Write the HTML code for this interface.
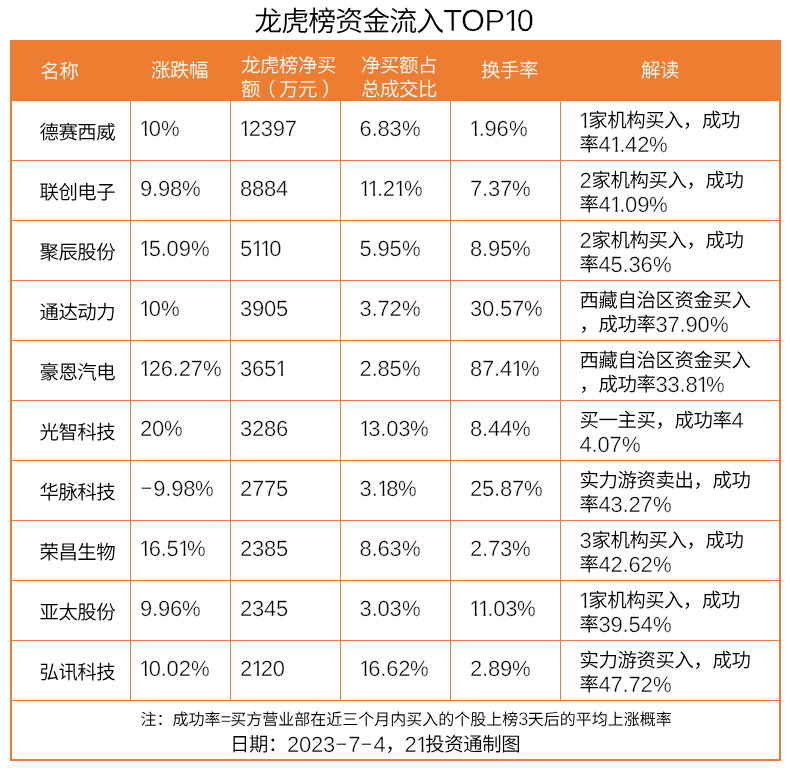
<!DOCTYPE html>
<html lang="zh-CN">
<head>
<meta charset="utf-8">
<title>龙虎榜资金流入TOP10</title>
<style>
html,body{margin:0;padding:0;background:#fff;}
body{width:790px;height:770px;position:relative;overflow:hidden;
  font-family:"Liberation Sans","Noto Sans CJK SC",sans-serif;font-weight:350;color:#000;text-rendering:geometricPrecision;}
i,b{font-style:normal;font-weight:inherit;}
table,thead,tbody,tfoot,tr,th,td{display:block;margin:0;padding:0;border:0;font-weight:inherit;text-align:left;}
.title{position:absolute;left:254.2px;top:2px;margin:0;text-align:left;font-size:27.9px;letter-spacing:-.9px;line-height:40px;font-weight:350;white-space:nowrap;}
.tbl{position:absolute;left:0;top:0;width:790px;height:770px;}
.tbl:before{content:"";position:absolute;left:10px;top:40px;width:767px;height:717px;border:2px solid #ed7d31;}
.hd{position:absolute;left:11px;top:41px;width:769px;height:60px;background:#ed7d31;color:#fff;}
.th{position:absolute;white-space:nowrap;font-size:19.4px;letter-spacing:-.4px;line-height:24px;}
.tr{position:absolute;left:0;width:790px;height:59px;}
.td{position:absolute;white-space:nowrap;font-size:19.4px;letter-spacing:-.4px;line-height:24px;top:0;}
.n{font-size:22px;line-height:0;letter-spacing:-.2px;-webkit-text-stroke:0.4px #fff;}
.n i{display:inline-block;line-height:.8em;width:.424em;margin-left:-.03em;clip-path:polygon(0 0,.347em 0,.347em 100%,.25em 100%,.25em 62%,0 62%);}
.n b{display:inline-block;width:.6em;transform:translate(-.036em,-.09em) scaleX(1.92);transform-origin:0 50%;}
.title .n{font-size:30.7px;letter-spacing:-.35px;margin-left:0;}
.note .n{font-size:18.2px;letter-spacing:-.7px;}
.c1{left:39.4px;top:20px;}
.c2{left:140px;top:17px;}
.c3{left:240px;top:17px;}
.c4{left:359.6px;top:17px;}
.c5{left:470px;top:17px;}
.c6{left:579.5px;top:8px;}
.c6 .n,.date .n{vertical-align:-1px;}
.h1{left:29.6px;top:19.3px;}
.h2{left:140px;top:18px;}
.h3{left:230px;top:13px;}
.h4{left:350px;top:13px;}
.h5{left:470px;top:18px;}
.h6{left:630px;top:18px;}
.ft{position:absolute;left:12px;top:701px;width:767px;height:58px;}
.note{position:absolute;left:128.4px;top:10px;font-size:16px;line-height:20px;white-space:nowrap;}
.date{position:absolute;left:218px;top:32px;font-size:19.4px;letter-spacing:-.4px;line-height:24px;white-space:nowrap;}
.vl{position:absolute;top:101px;width:1px;height:599px;background:#ed7d31;}
.hl{position:absolute;left:12px;height:1px;width:767px;background:#ed7d31;}
.n u{text-decoration:none;display:inline-block;transform:scaleX(.955);transform-origin:0 50%;}
.pl{position:relative;left:-.2em;}
.pr{position:relative;left:.26em;}
</style>
</head>
<body>
<h1 class="title">龙虎榜资金流入<span class="n">TOP<i>1</i>0</span></h1>
<div class="tbl">
<div class="grid">
  <div class="vl" style="left:130px"></div>
  <div class="vl" style="left:230px"></div>
  <div class="vl" style="left:340px"></div>
  <div class="vl" style="left:450px"></div>
  <div class="vl" style="left:560px"></div>
  <div class="hl" style="top:160px"></div>
  <div class="hl" style="top:220px"></div>
  <div class="hl" style="top:280px"></div>
  <div class="hl" style="top:340px"></div>
  <div class="hl" style="top:400px"></div>
  <div class="hl" style="top:460px"></div>
  <div class="hl" style="top:520px"></div>
  <div class="hl" style="top:580px"></div>
  <div class="hl" style="top:640px"></div>
  <div class="hl" style="top:700px"></div>
</div>
<table>
<thead>
<tr class="hd">
  <th class="th h1">名称</th>
  <th class="th h2">涨跌幅</th>
  <th class="th h3">龙虎榜净买<br>额<span class="pl">（</span>万元<span class="pr">）</span></th>
  <th class="th h4">净买额占<br>总成交比</th>
  <th class="th h5">换手率</th>
  <th class="th h6">解读</th>
</tr>
</thead>
<tbody>
<tr class="tr" style="top:101px">
  <td class="td c1">德赛西威</td>
  <td class="td c2"><span class="n"><i>1</i>0<u>%</u></span></td>
  <td class="td c3"><span class="n"><i>1</i>2397</span></td>
  <td class="td c4"><span class="n">6.83<u>%</u></span></td>
  <td class="td c5"><span class="n"><i>1</i>.96<u>%</u></span></td>
  <td class="td c6"><span class="n"><i>1</i></span>家机构买入，成功<br>率<span class="n">4<i>1</i>.42<u>%</u></span></td>
</tr>
<tr class="tr" style="top:161px">
  <td class="td c1">联创电子</td>
  <td class="td c2"><span class="n">9.98<u>%</u></span></td>
  <td class="td c3"><span class="n">8884</span></td>
  <td class="td c4"><span class="n"><i>1</i><i>1</i>.2<i>1</i><u>%</u></span></td>
  <td class="td c5"><span class="n">7.37<u>%</u></span></td>
  <td class="td c6"><span class="n">2</span>家机构买入，成功<br>率<span class="n">4<i>1</i>.09<u>%</u></span></td>
</tr>
<tr class="tr" style="top:221px">
  <td class="td c1">聚辰股份</td>
  <td class="td c2"><span class="n"><i>1</i>5.09<u>%</u></span></td>
  <td class="td c3"><span class="n">5<i>1</i><i>1</i>0</span></td>
  <td class="td c4"><span class="n">5.95<u>%</u></span></td>
  <td class="td c5"><span class="n">8.95<u>%</u></span></td>
  <td class="td c6"><span class="n">2</span>家机构买入，成功<br>率<span class="n">45.36<u>%</u></span></td>
</tr>
<tr class="tr" style="top:281px">
  <td class="td c1">通达动力</td>
  <td class="td c2"><span class="n"><i>1</i>0<u>%</u></span></td>
  <td class="td c3"><span class="n">3905</span></td>
  <td class="td c4"><span class="n">3.72<u>%</u></span></td>
  <td class="td c5"><span class="n">30.57<u>%</u></span></td>
  <td class="td c6">西藏自治区资金买入<br>，成功率<span class="n">37.90<u>%</u></span></td>
</tr>
<tr class="tr" style="top:341px">
  <td class="td c1">豪恩汽电</td>
  <td class="td c2"><span class="n"><i>1</i>26.27<u>%</u></span></td>
  <td class="td c3"><span class="n">365<i>1</i></span></td>
  <td class="td c4"><span class="n">2.85<u>%</u></span></td>
  <td class="td c5"><span class="n">87.4<i>1</i><u>%</u></span></td>
  <td class="td c6">西藏自治区资金买入<br>，成功率<span class="n">33.8<i>1</i><u>%</u></span></td>
</tr>
<tr class="tr" style="top:401px">
  <td class="td c1">光智科技</td>
  <td class="td c2"><span class="n">20<u>%</u></span></td>
  <td class="td c3"><span class="n">3286</span></td>
  <td class="td c4"><span class="n"><i>1</i>3.03<u>%</u></span></td>
  <td class="td c5"><span class="n">8.44<u>%</u></span></td>
  <td class="td c6">买一主买，成功率<span class="n">4</span><br><span class="n">4.07<u>%</u></span></td>
</tr>
<tr class="tr" style="top:461px">
  <td class="td c1">华脉科技</td>
  <td class="td c2"><span class="n"><b>-</b>9.98<u>%</u></span></td>
  <td class="td c3"><span class="n">2775</span></td>
  <td class="td c4"><span class="n">3.<i>1</i>8<u>%</u></span></td>
  <td class="td c5"><span class="n">25.87<u>%</u></span></td>
  <td class="td c6">实力游资卖出，成功<br>率<span class="n">43.27<u>%</u></span></td>
</tr>
<tr class="tr" style="top:521px">
  <td class="td c1">荣昌生物</td>
  <td class="td c2"><span class="n"><i>1</i>6.5<i>1</i><u>%</u></span></td>
  <td class="td c3"><span class="n">2385</span></td>
  <td class="td c4"><span class="n">8.63<u>%</u></span></td>
  <td class="td c5"><span class="n">2.73<u>%</u></span></td>
  <td class="td c6"><span class="n">3</span>家机构买入，成功<br>率<span class="n">42.62<u>%</u></span></td>
</tr>
<tr class="tr" style="top:581px">
  <td class="td c1">亚太股份</td>
  <td class="td c2"><span class="n">9.96<u>%</u></span></td>
  <td class="td c3"><span class="n">2345</span></td>
  <td class="td c4"><span class="n">3.03<u>%</u></span></td>
  <td class="td c5"><span class="n"><i>1</i><i>1</i>.03<u>%</u></span></td>
  <td class="td c6"><span class="n"><i>1</i></span>家机构买入，成功<br>率<span class="n">39.54<u>%</u></span></td>
</tr>
<tr class="tr" style="top:641px">
  <td class="td c1">弘讯科技</td>
  <td class="td c2"><span class="n"><i>1</i>0.02<u>%</u></span></td>
  <td class="td c3"><span class="n">2<i>1</i>20</span></td>
  <td class="td c4"><span class="n"><i>1</i>6.62<u>%</u></span></td>
  <td class="td c5"><span class="n">2.89<u>%</u></span></td>
  <td class="td c6">实力游资买入，成功<br>率<span class="n">47.72<u>%</u></span></td>
</tr>
</tbody>
<tfoot>
<tr>
<td class="ft" colspan="6">
  <div class="note">注：成功率<span class="n">=</span>买方营业部在近三个月内买入的个股上榜<span class="n">3</span>天后的平均上涨概率</div>
  <div class="date">日期：<span class="n">2023<b>-</b>7<b>-</b>4</span>，<span class="n">2<i>1</i></span>投资通制图</div>
</td>
</tr>
</tfoot>
</table>
</div>
</body>
</html>
